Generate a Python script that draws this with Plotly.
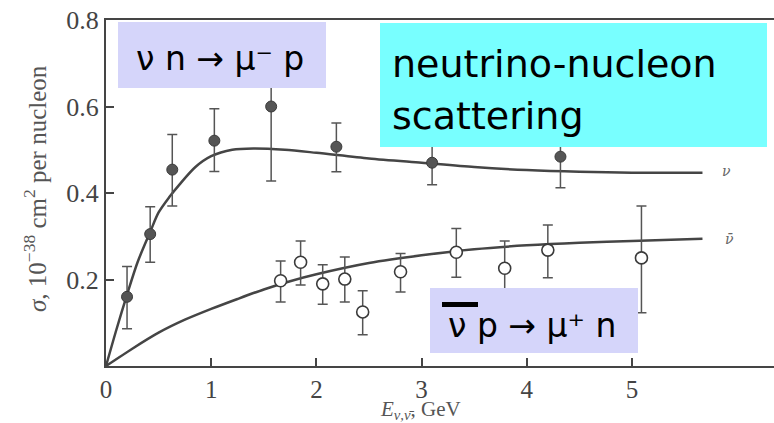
import plotly.graph_objects as go

# Neutrino (nu n -> mu- p) measurements, cross-section per nucleon [1e-38 cm^2]
nu_E = [0.2, 0.42, 0.63, 1.03, 1.57, 2.19, 3.10, 4.32]
nu_sigma = [0.16, 0.305, 0.454, 0.521, 0.60, 0.507, 0.47, 0.484]
nu_err_hi = [0.07, 0.063, 0.081, 0.074, 0.17, 0.055, 0.051, 0.072]
nu_err_lo = [0.074, 0.065, 0.084, 0.071, 0.172, 0.058, 0.051, 0.072]

# Antineutrino (nubar p -> mu+ n) measurements
anu_E = [1.66, 1.85, 2.06, 2.27, 2.44, 2.80, 3.33, 3.79, 4.20, 5.09]
anu_sigma = [0.197, 0.24, 0.19, 0.201, 0.125, 0.218, 0.263, 0.226, 0.268, 0.25]
anu_err_hi = [0.046, 0.049, 0.044, 0.051, 0.049, 0.042, 0.055, 0.063, 0.058, 0.12]
anu_err_lo = [0.049, 0.053, 0.047, 0.053, 0.053, 0.047, 0.058, 0.063, 0.064, 0.127]

# Theory curves
nu_curve_E = [0, 0.1, 0.2, 0.3, 0.42, 0.5, 0.6, 0.7, 0.85, 1.0, 1.2, 1.4, 1.7,
              2.0, 2.5, 3.0, 3.5, 4.0, 4.5, 5.0, 5.67]
nu_curve_sigma = [0, 0.085, 0.165, 0.24, 0.31, 0.355, 0.39, 0.42, 0.46, 0.485,
                  0.5, 0.503, 0.5, 0.493, 0.48, 0.47, 0.46, 0.453, 0.449, 0.447, 0.447]
anu_curve_E = [0, 0.25, 0.5, 0.75, 1.0, 1.25, 1.5, 1.75, 2.0, 2.5, 3.0, 3.5,
               4.0, 4.5, 5.0, 5.67]
anu_curve_sigma = [0, 0.04, 0.077, 0.107, 0.132, 0.155, 0.177, 0.196, 0.212,
                   0.238, 0.256, 0.27, 0.279, 0.285, 0.289, 0.294]

x_ticks = [0, 1, 2, 3, 4, 5]
y_ticks = [0.2, 0.4, 0.6, 0.8]

W, H = 774, 423
ML, MR, MT, MB = 106, 0, 20, 57
PW, PH = W - ML - MR, H - MT - MB


def px(x):
    return (x - ML) / PW


def py(y):
    return (H - MB - y) / PH


LINE = "#454545"
serif = "Liberation Serif, DejaVu Serif, serif"

fig = go.Figure()

fig.add_trace(go.Scatter(x=nu_curve_E, y=nu_curve_sigma, mode="lines",
                         line=dict(color=LINE, width=2.5, shape="spline", smoothing=0.8),
                         hoverinfo="skip", showlegend=False))
fig.add_trace(go.Scatter(x=anu_curve_E, y=anu_curve_sigma, mode="lines",
                         line=dict(color=LINE, width=2.5, shape="spline", smoothing=0.8),
                         hoverinfo="skip", showlegend=False))

fig.add_trace(go.Scatter(
    x=nu_E, y=nu_sigma, mode="markers", showlegend=False,
    marker=dict(size=11, color="#555555", line=dict(color="#3a3a3a", width=1)),
    error_y=dict(type="data", symmetric=False, array=nu_err_hi, arrayminus=nu_err_lo,
                 color="#555555", thickness=1.5, width=5)))
fig.add_trace(go.Scatter(
    x=anu_E, y=anu_sigma, mode="markers", showlegend=False,
    marker=dict(size=12, color="white", line=dict(color="#3a3a3a", width=1.6)),
    error_y=dict(type="data", symmetric=False, array=anu_err_hi, arrayminus=anu_err_lo,
                 color="#555555", thickness=1.5, width=5)))

shapes = [
    dict(type="rect", xref="paper", yref="paper", x0=px(118), x1=px(326),
         y0=py(88), y1=py(22), fillcolor="#D5D5FA", line=dict(width=0), layer="above"),
    dict(type="rect", xref="paper", yref="paper", x0=px(380), x1=px(767),
         y0=py(147), y1=py(23), fillcolor="#78FFFF", line=dict(width=0), layer="above"),
    dict(type="rect", xref="paper", yref="paper", x0=px(430), x1=px(638),
         y0=py(353), y1=py(288), fillcolor="#D5D5FA", line=dict(width=0), layer="above"),
    dict(type="rect", xref="paper", yref="paper", x0=px(442), x1=px(478),
         y0=py(307), y1=py(302), fillcolor="black", line=dict(width=0), layer="above"),
]

box_font = dict(family="DejaVu Sans", size=33, color="black")
annotations = [
    dict(text="ν n → μ⁻ p", x=px(220), y=py(58), xref="paper", yref="paper",
         xanchor="center", yanchor="middle", showarrow=False, font=box_font),
    dict(text="ν p → μ⁺ n", x=px(532), y=py(325), xref="paper", yref="paper",
         xanchor="center", yanchor="middle", showarrow=False, font=box_font),
    dict(text="neutrino-nucleon", x=px(390), y=py(64), xref="paper", yref="paper",
         xanchor="left", yanchor="middle", showarrow=False,
         font=dict(family="DejaVu Sans", size=38, color="black")),
    dict(text="scattering", x=px(390), y=py(116), xref="paper", yref="paper",
         xanchor="left", yanchor="middle", showarrow=False,
         font=dict(family="DejaVu Sans", size=38, color="black")),
    dict(text="<i>ν</i>", x=5.9, y=0.45, xref="x", yref="y", showarrow=False,
         xanchor="center", yanchor="middle",
         font=dict(family="DejaVu Serif", size=14, color="#666")),
    dict(text="<i>ν̄</i>", x=5.93, y=0.294, xref="x", yref="y", showarrow=False,
         xanchor="center", yanchor="middle",
         font=dict(family="DejaVu Serif", size=14, color="#666")),
    dict(text="<i>σ</i>, 10<sup>−38</sup> cm<sup>2</sup> per nucleon", x=px(35), y=py(189),
         xref="paper", yref="paper", textangle=-90, showarrow=False,
         xanchor="center", yanchor="middle", font=dict(family=serif, size=25, color="#555")),
    dict(text="<i>E</i><sub><i>ν,ν̄</i></sub>, GeV", x=px(420), y=py(410),
         xref="paper", yref="paper", showarrow=False,
         xanchor="center", yanchor="middle", font=dict(family=serif, size=21, color="#555")),
]

fig.update_layout(
    width=W, height=H, margin=dict(l=ML, r=MR, t=MT, b=MB),
    paper_bgcolor="white", plot_bgcolor="white",
    shapes=shapes, annotations=annotations,
    xaxis=dict(range=[0, 6.35], tickvals=x_ticks, ticktext=[str(v) for v in x_ticks],
               showline=True, linecolor=LINE, linewidth=2, mirror=True,
               ticks="inside", ticklen=8, tickwidth=1.5, tickcolor=LINE,
               showgrid=False, zeroline=False,
               tickfont=dict(family=serif, size=25, color="#444")),
    yaxis=dict(range=[0, 0.8], tickvals=y_ticks, ticktext=["0.2", "0.4", "0.6", "0.8"],
               showline=True, linecolor=LINE, linewidth=2,
               ticks="inside", ticklen=8, tickwidth=1.5, tickcolor=LINE,
               showgrid=False, zeroline=False,
               tickfont=dict(family=serif, size=26, color="#444")),
)

fig.write_html("out.html")
